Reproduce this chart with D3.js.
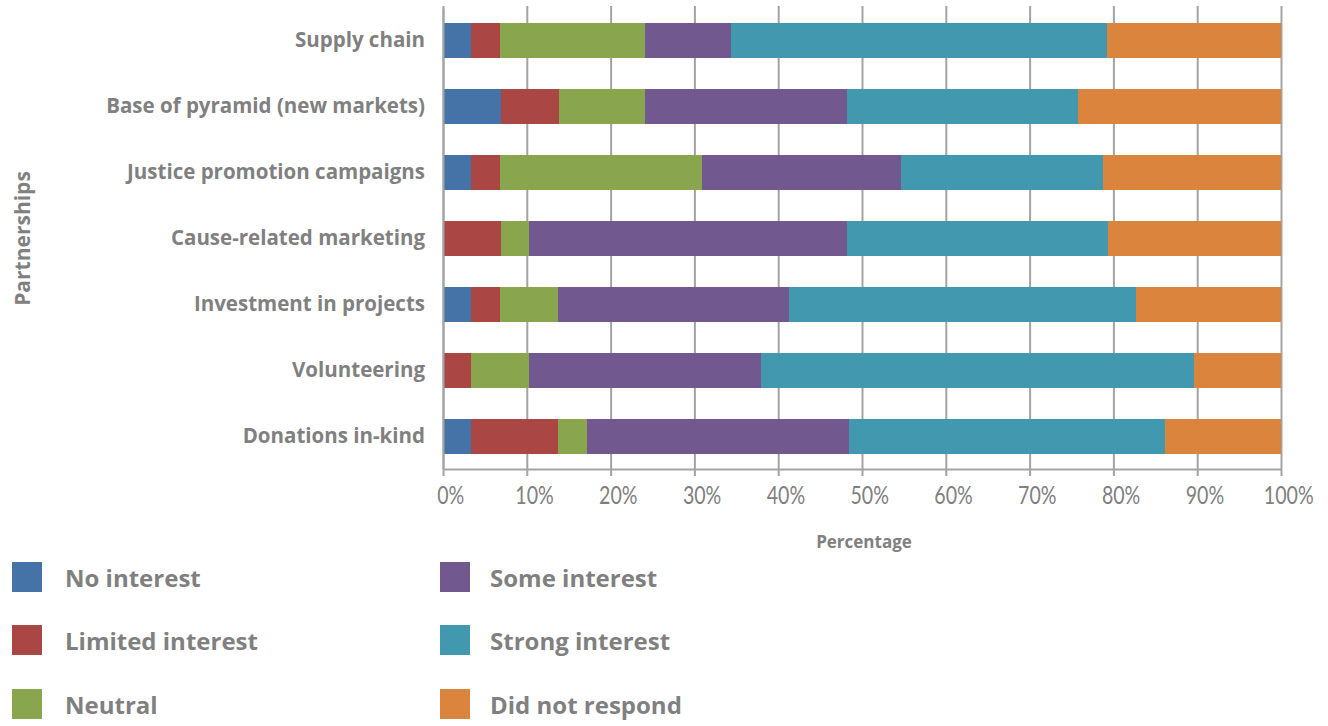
<!DOCTYPE html>
<html>
<head>
<meta charset="utf-8">
<script src="https://cdn.jsdelivr.net/npm/d3@7"></script>
<style>
  html, body { margin: 0; padding: 0; background: #ffffff; }
  svg { display: block; }
</style>
</head>
<body>
<svg id="chart" width="1328" height="726"></svg>
<script>
// Partnership types (top to bottom)
const categories = [
  "Supply chain",
  "Base of pyramid (new markets)",
  "Justice promotion campaigns",
  "Cause-related marketing",
  "Investment in projects",
  "Volunteering",
  "Donations in-kind"
];

// Response shares in percent, one value per partnership type
const noInterest      = [3.4, 6.9, 3.4, 0.0, 3.4, 0.0, 3.4];
const limitedInterest = [3.4, 6.9, 3.4, 6.9, 3.4, 3.4, 10.3];
const neutral         = [17.3, 10.3, 24.1, 3.4, 6.9, 6.9, 3.5];
const someInterest    = [10.3, 24.1, 23.8, 37.9, 27.6, 27.6, 31.2];
const strongInterest  = [44.8, 27.6, 24.0, 31.2, 41.4, 51.7, 37.8];
const didNotRespond   = [20.8, 24.2, 21.3, 20.6, 17.3, 10.4, 13.8];

const seriesNames = ["No interest", "Limited interest", "Neutral",
                     "Some interest", "Strong interest", "Did not respond"];
const seriesValues = [noInterest, limitedInterest, neutral,
                      someInterest, strongInterest, didNotRespond];
const seriesColors = ["#4572a7", "#aa4643", "#89a54e", "#71588f", "#4198af", "#db843d"];

const tickValues = [0, 10, 20, 30, 40, 50, 60, 70, 80, 90, 100];

const xTitle = "Percentage";
const yTitle = "Partnerships";

// Build rows for d3.stack
const rows = categories.map((c, i) => {
  const r = { category: c };
  seriesNames.forEach((s, j) => { r[s] = seriesValues[j][i]; });
  return r;
});

const stacked = d3.stack().keys(seriesNames)(rows);

const svg = d3.select("#chart");
const textColor = "#808080";
const gridColor = "#a3a3a3";
const fontBold = "'Open Sans', 'Lato', sans-serif";

const plot = { left: 443, right: 1281, top: 8, bottom: 469 };

const x = d3.scaleLinear().domain([0, 100]).range([plot.left, plot.right]);
const y = d3.scaleBand().domain(categories)
  .range([plot.top, plot.bottom])
  .paddingInner(0.47).paddingOuter(0.235);

// Vertical gridlines
const grid = svg.append("g")
  .attr("transform", `translate(0,${plot.bottom})`)
  .call(d3.axisBottom(x).tickValues(tickValues)
    .tickSize(-(plot.bottom - plot.top + 2)).tickFormat(""));
grid.select(".domain").remove();
grid.selectAll(".tick line").attr("stroke", gridColor).attr("stroke-width", 2);

// Stacked bars
svg.append("g").selectAll("g")
  .data(stacked)
  .join("g")
  .attr("fill", (d, i) => seriesColors[i])
  .selectAll("rect")
  .data(d => d.map(v => ({ v, cat: v.data.category })))
  .join("rect")
  .attr("x", d => x(d.v[0]))
  .attr("y", d => y(d.cat))
  .attr("width", d => Math.max(0, x(d.v[1]) - x(d.v[0])))
  .attr("height", y.bandwidth())
  .attr("shape-rendering", "crispEdges");

// Bottom axis
const xAxis = svg.append("g")
  .attr("transform", `translate(0,${plot.bottom})`)
  .call(d3.axisBottom(x).tickValues(tickValues).tickSize(7)
    .tickSizeOuter(0).tickPadding(11).tickFormat(d => d + "%"));
xAxis.select(".domain").attr("stroke", gridColor).attr("stroke-width", 2);
xAxis.selectAll(".tick line").attr("stroke", gridColor).attr("stroke-width", 2);
// Narrow tick labels
xAxis.selectAll(".tick text")
  .attr("fill", textColor)
  .attr("transform", "scale(0.8,1)")
  .attr("dx", 9)
  .style("font-family", "'Lato', sans-serif")
  .style("font-weight", 400)
  .style("font-size", "24.5px");

// Left axis (category labels)
const yAxis = svg.append("g")
  .attr("transform", `translate(${plot.left},0)`)
  .call(d3.axisLeft(y).tickSize(0).tickPadding(18));
yAxis.select(".domain").attr("stroke", gridColor).attr("stroke-width", 2);
yAxis.selectAll(".tick text")
  .attr("fill", textColor)
  .style("font-family", fontBold)
  .style("font-weight", 700)
  .style("font-size", "20.5px");

// Axis titles
svg.append("text")
  .attr("x", x(50) + 2).attr("y", 548)
  .attr("text-anchor", "middle")
  .attr("fill", textColor)
  .style("font-family", fontBold).style("font-weight", 700).style("font-size", "17px")
  .text(xTitle);

svg.append("text")
  .attr("transform", `translate(30,${(plot.top + plot.bottom) / 2}) rotate(-90)`)
  .attr("text-anchor", "middle")
  .attr("fill", textColor)
  .style("font-family", fontBold).style("font-weight", 700).style("font-size", "21px")
  .text(yTitle);

// Legend: two columns of three
const legend = svg.append("g");
const legendCols = [12, 440];
const legendRows = [562, 625, 689];
seriesNames.forEach((name, i) => {
  const col = Math.floor(i / 3), row = i % 3;
  const g = legend.append("g")
    .attr("transform", `translate(${legendCols[col]},${legendRows[row]})`);
  g.append("rect").attr("width", 30).attr("height", 30).attr("fill", seriesColors[i]);
  g.append("text")
    .attr("x", 53 - col * 3).attr("y", 25)
    .attr("fill", textColor)
    .style("font-family", fontBold).style("font-weight", 700).style("font-size", "24px")
    .text(name);
});
</script>
</body>
</html>
